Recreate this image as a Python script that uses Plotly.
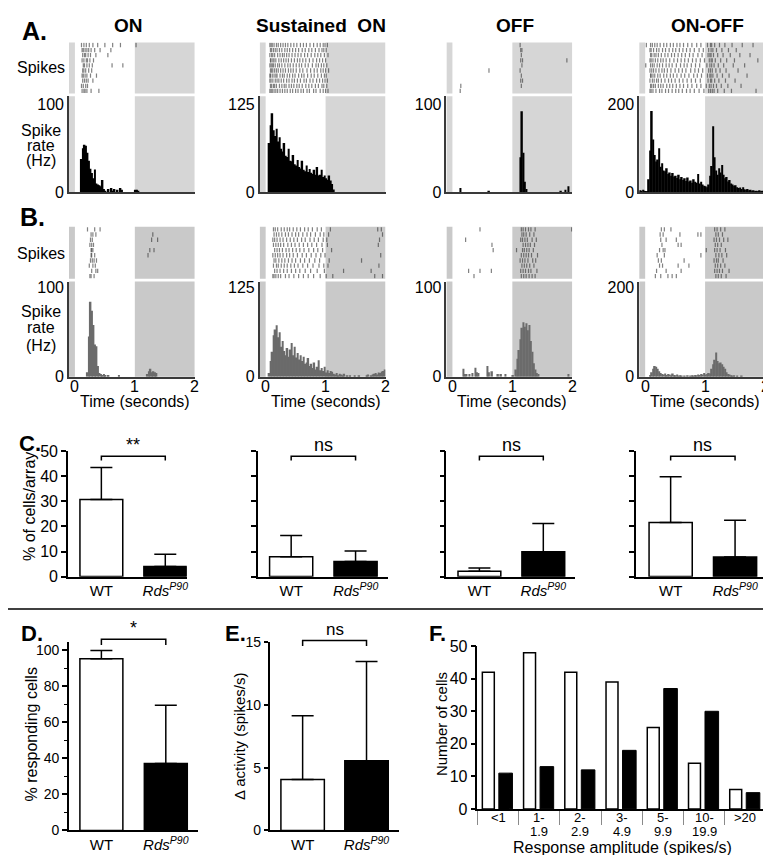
import plotly.graph_objects as go

W, H = 771, 855
FONT = "Liberation Sans, Arial, Helvetica, sans-serif"

# ---------------- data ----------------
BIN = 0.025          # histogram bin width (s)
T_START = -0.1       # first bin edge (s)
STIM_OFF = 1.0       # light off (s)
T_END = 2.0
time_ticks = [0, 1, 2]

conditions = ["ON", "Sustained  ON", "OFF", "ON-OFF"]

# PSTH values (Hz), 84 bins from -0.1 s to 2.0 s ; row A = WT, row B = RdsP90
hA_on = [0, 0, 0, 0,
         0, 0, 0, 0, 38, 50, 54, 53, 45, 36,
         27, 22, 16, 26, 10, 9, 8, 7, 14, 4,
         2, 0, 4, 0, 5, 2, 4, 0, 3, 0,
         5, 3, 0, 0, 0, 0, 0, 0, 0, 0,
         3, 3, 2, 0, 0, 0, 0, 0, 0, 0,
         0, 0, 0, 0, 0, 0, 0, 0, 0, 0,
         0, 0, 0, 0, 0, 0, 0, 0, 0, 0,
         0, 0, 0, 0, 0, 0, 0, 0, 0, 0]
hA_sus = [0, 0, 0, 0,
          0, 0, 70, 95, 112, 88, 80, 90, 72, 78,
          62, 58, 70, 52, 50, 62, 45, 44, 53, 40,
          38, 46, 36, 34, 45, 32, 30, 38, 29, 33,
          28, 26, 32, 25, 36, 24, 25, 32, 22, 24,
          20, 18, 24, 17, 12, 4, 0, 0, 0, 0,
          0, 0, 0, 0, 0, 0, 0, 0, 0, 0,
          0, 0, 0, 0, 0, 0, 0, 0, 0, 0,
          0, 0, 0, 0, 0, 0, 0, 0, 0, 0]
hA_off = [0, 0, 0, 0,
          0, 0, 0, 0, 0, 5, 0, 0, 0, 0,
          0, 0, 0, 0, 0, 0, 0, 0, 0, 0,
          0, 0, 0, 0, 2, 0, 0, 0, 0, 0,
          0, 0, 0, 0, 0, 0, 0, 0, 0, 0,
          0, 0, 0, 0, 0, 40, 92, 45, 12, 4,
          0, 0, 0, 0, 0, 0, 0, 0, 0, 0,
          0, 0, 0, 0, 0, 0, 0, 0, 0, 0,
          0, 0, 2, 0, 0, 3, 0, 7, 0, 0]
hA_onoff = [5, 4, 6, 4,
            3, 3, 30, 95, 185, 120, 85, 70, 75, 100,
            58, 66, 50, 48, 55, 42, 45, 38, 44, 36,
            38, 33, 40, 30, 35, 28, 32, 26, 34, 25,
            27, 22, 30, 24, 22, 42, 20, 24, 18, 15,
            14, 12, 18, 38, 60, 150, 80, 50, 40, 55,
            45, 62, 40, 32, 35, 25, 28, 20, 18, 15,
            16, 12, 10, 11, 8, 12, 7, 6, 8, 5,
            6, 4, 5, 3, 4, 3, 5, 3, 4, 3]
hB_on = [0, 0, 0, 0,
         0, 0, 0, 0, 0, 0, 0, 0, 5, 45,
         84, 74, 58, 36, 34, 12, 4, 3, 2, 3,
         2, 0, 2, 0, 0, 0, 0, 0, 0, 2,
         0, 0, 0, 0, 0, 0, 0, 0, 0, 0,
         0, 0, 0, 0, 0, 0, 0, 0, 3, 6,
         9, 5, 6, 5, 4, 0, 0, 0, 0, 0,
         0, 0, 0, 0, 0, 0, 0, 0, 0, 0,
         0, 0, 0, 0, 0, 0, 0, 0, 0, 0]
hB_sus = [0, 0, 0, 0,
          0, 0, 5, 22, 35, 58, 66, 72, 55, 62,
          42, 50, 36, 30, 40, 28, 38, 47, 30, 42,
          27, 33, 24, 30, 22, 28, 18, 20, 26, 15,
          18, 12, 20, 10, 14, 23, 9, 12, 8, 14,
          6, 9, 5, 8, 7, 4, 3, 5, 2, 4,
          3, 2, 4, 0, 2, 0, 2, 0, 0, 2,
          0, 0, 2, 0, 0, 0, 0, 2, 3, 0,
          2, 3, 4, 5, 3, 6, 5, 7, 8, 10]
hB_off = [0, 0, 0, 0,
          0, 0, 0, 0, 0, 0, 0, 9, 3, 3,
          0, 3, 0, 4, 0, 10, 5, 4, 0, 0,
          0, 0, 0, 12, 5, 0, 6, 0, 0, 0,
          3, 0, 3, 0, 0, 3, 0, 0, 0, 0,
          2, 0, 8, 20, 30, 42, 55, 61, 56, 60,
          52, 58, 40, 28, 15, 8, 4, 3, 0, 0,
          0, 0, 0, 0, 0, 0, 0, 0, 0, 0,
          0, 0, 0, 0, 0, 0, 0, 3, 0, 0]
hB_onoff = [0, 0, 0, 0,
            0, 0, 0, 4, 10, 18, 24, 22, 18, 12,
            8, 6, 5, 7, 4, 6, 5, 3, 7, 4,
            3, 5, 2, 3, 2, 0, 2, 0, 3, 0,
            2, 3, 2, 4, 3, 5, 4, 6, 5, 8,
            5, 6, 8, 7, 18, 28, 38, 54, 35, 30,
            32, 28, 22, 18, 10, 6, 5, 3, 2, 3,
            0, 2, 0, 0, 2, 0, 0, 0, 0, 0,
            0, 0, 0, 0, 0, 0, 0, 0, 0, 0]

hist_top_label_A = [100, 125, 100, 200]
hist_top_label_B = [100, 125, 100, 200]

# spike rasters: spike times (s) per trial, top trial first
rA_on = [[0.11, 0.15, 0.19, 0.24, 0.30, 0.38, 0.50, 0.63, 0.76, 1.02],
         [0.12, 0.14, 0.17, 0.20, 0.23, 0.27, 0.33, 0.42, 0.60],
         [0.13, 0.16, 0.18, 0.22, 0.26, 0.35, 0.55],
         [0.12, 0.15, 0.19, 0.21, 0.25, 0.31],
         [0.14, 0.16, 0.20, 0.24, 0.29, 0.62, 0.80],
         [0.13, 0.15, 0.18, 0.23, 0.28],
         [0.12, 0.14, 0.17, 0.20, 0.26, 0.36],
         [0.13, 0.16, 0.19, 0.22, 0.30],
         [0.11, 0.14, 0.18, 0.21],
         [0.12, 0.15, 0.17, 0.20, 0.27, 0.40]]
rA_sus = [[0.07, 0.09, 0.11, 0.14, 0.18, 0.21, 0.25, 0.29, 0.33, 0.37, 0.42, 0.47, 0.52, 0.58, 0.63, 0.68, 0.74, 0.80, 0.86, 0.91, 0.96, 0.99, 1.03],
          [0.08, 0.10, 0.13, 0.16, 0.19, 0.23, 0.27, 0.32, 0.36, 0.40, 0.45, 0.50, 0.55, 0.61, 0.66, 0.72, 0.77, 0.83, 0.89, 0.94, 0.97, 1.01],
          [0.07, 0.10, 0.12, 0.15, 0.20, 0.24, 0.28, 0.31, 0.35, 0.39, 0.44, 0.49, 0.54, 0.59, 0.65, 0.70, 0.76, 0.82, 0.87, 0.92, 0.98, 1.04],
          [0.08, 0.09, 0.12, 0.14, 0.17, 0.22, 0.26, 0.30, 0.34, 0.38, 0.43, 0.48, 0.53, 0.57, 0.62, 0.67, 0.73, 0.79, 0.85, 0.90, 0.95, 1.00],
          [0.07, 0.09, 0.11, 0.13, 0.16, 0.20, 0.23, 0.27, 0.32, 0.37, 0.41, 0.46, 0.51, 0.56, 0.60, 0.66, 0.71, 0.78, 0.84, 0.88, 0.93, 0.97, 1.02],
          [0.08, 0.10, 0.12, 0.15, 0.18, 0.21, 0.25, 0.29, 0.33, 0.38, 0.42, 0.46, 0.51, 0.57, 0.62, 0.69, 0.75, 0.81, 0.86, 0.92, 0.96, 1.00, 1.05],
          [0.07, 0.08, 0.11, 0.14, 0.17, 0.19, 0.24, 0.28, 0.31, 0.36, 0.40, 0.45, 0.49, 0.55, 0.60, 0.64, 0.70, 0.76, 0.81, 0.87, 0.93, 0.98, 1.01],
          [0.07, 0.09, 0.12, 0.16, 0.19, 0.22, 0.26, 0.30, 0.35, 0.39, 0.44, 0.48, 0.53, 0.58, 0.64, 0.68, 0.74, 0.79, 0.85, 0.90, 0.95, 0.99, 1.03],
          [0.08, 0.10, 0.13, 0.15, 0.18, 0.23, 0.27, 0.31, 0.34, 0.39, 0.43, 0.47, 0.52, 0.56, 0.61, 0.67, 0.72, 0.77, 0.83, 0.88, 0.94, 0.97, 1.02],
          [0.07, 0.09, 0.11, 0.14, 0.17, 0.20, 0.24, 0.28, 0.32, 0.36, 0.41, 0.45, 0.50, 0.54, 0.59, 0.63, 0.69, 0.73, 0.80, 0.84, 0.91, 0.96, 1.00, 1.04]]
rA_off = [[1.13], [1.14, 1.16], [1.15], [1.14, 1.17, 1.91], [1.16], [0.61, 1.13],
          [1.15], [1.14, 1.17], [0.14, 1.15], [0.13]]
rA_onoff = [[0.02, 0.09, 0.12, 0.16, 0.20, 0.25, 0.31, 0.36, 0.42, 0.47, 0.53, 0.58, 0.64, 0.71, 0.78, 0.86, 0.93, 1.04, 1.09, 1.11, 1.16, 1.24, 1.33, 1.45, 1.62, 1.80],
            [0.08, 0.10, 0.14, 0.19, 0.23, 0.29, 0.34, 0.40, 0.46, 0.51, 0.57, 0.63, 0.69, 0.75, 0.82, 0.90, 0.97, 1.06, 1.10, 1.13, 1.19, 1.28, 1.39, 1.52],
            [0.09, 0.11, 0.15, 0.18, 0.22, 0.27, 0.33, 0.38, 0.44, 0.49, 0.55, 0.61, 0.67, 0.74, 0.80, 0.88, 0.95, 1.05, 1.08, 1.10, 1.14, 1.21, 1.30, 1.42, 1.58, 1.75],
            [0.08, 0.10, 0.13, 0.17, 0.21, 0.26, 0.30, 0.35, 0.41, 0.48, 0.54, 0.60, 0.66, 0.72, 0.79, 0.85, 0.92, 0.99, 1.07, 1.10, 1.12, 1.17, 1.26, 1.36, 1.49, 1.88],
            [0.01, 0.09, 0.12, 0.15, 0.20, 0.24, 0.29, 0.35, 0.40, 0.45, 0.52, 0.59, 0.65, 0.70, 0.77, 0.84, 0.91, 1.03, 1.08, 1.11, 1.15, 1.22, 1.31, 1.47, 1.66],
            [0.08, 0.11, 0.14, 0.18, 0.23, 0.28, 0.32, 0.37, 0.43, 0.50, 0.56, 0.62, 0.68, 0.76, 0.83, 0.89, 0.96, 1.06, 1.09, 1.12, 1.18, 1.25, 1.35, 1.55],
            [0.09, 0.10, 0.13, 0.16, 0.21, 0.25, 0.31, 0.36, 0.42, 0.47, 0.53, 0.60, 0.66, 0.73, 0.81, 0.87, 0.94, 1.04, 1.08, 1.10, 1.13, 1.20, 1.29, 1.40, 1.70],
            [0.08, 0.12, 0.15, 0.19, 0.22, 0.27, 0.33, 0.39, 0.44, 0.50, 0.57, 0.63, 0.70, 0.77, 0.84, 0.92, 1.05, 1.09, 1.11, 1.16, 1.23, 1.34, 1.50],
            [0.09, 0.11, 0.14, 0.17, 0.22, 0.26, 0.30, 0.36, 0.41, 0.46, 0.52, 0.58, 0.64, 0.71, 0.78, 0.86, 0.93, 1.02, 1.07, 1.10, 1.14, 1.19, 1.27, 1.38, 1.60],
            [0.08, 0.10, 0.13, 0.18, 0.24, 0.28, 0.34, 0.39, 0.45, 0.51, 0.56, 0.62, 0.69, 0.75, 0.82, 0.90, 0.98, 1.06, 1.09, 1.12, 1.15, 1.21, 1.32, 1.44, 1.85]]
rB_on = [[0.21, 0.33, 0.42], [0.27, 0.30, 0.35, 1.30], [0.26, 0.29, 1.28, 1.38],
         [0.25, 0.28, 0.31], [0.27, 0.28, 0.30, 1.25, 1.32], [0.27, 0.28, 0.33, 1.22],
         [0.26, 0.29, 0.32, 0.36], [0.24, 0.30, 0.34], [0.28, 0.35, 0.38], [0.25, 0.27, 0.32]]
rB_sus = [[0.13, 0.16, 0.20, 0.26, 0.31, 0.36, 0.40, 0.46, 0.52, 0.58, 0.65, 0.71, 0.78, 0.86, 0.93, 1.08, 1.87, 1.93],
          [0.14, 0.18, 0.22, 0.27, 0.33, 0.38, 0.44, 0.50, 0.55, 0.62, 0.69, 0.75, 0.83, 0.91, 0.97, 1.05, 1.95],
          [0.12, 0.15, 0.19, 0.24, 0.29, 0.35, 0.41, 0.47, 0.53, 0.60, 0.66, 0.74, 0.81, 0.88, 0.96, 1.02, 1.90],
          [0.13, 0.17, 0.21, 0.25, 0.30, 0.37, 0.43, 0.49, 0.56, 0.63, 0.70, 0.77, 0.85, 0.94, 1.03, 1.88],
          [0.15, 0.19, 0.23, 0.28, 0.34, 0.39, 0.45, 0.51, 0.57, 0.64, 0.72, 0.80, 0.87, 0.95, 1.10],
          [0.12, 0.16, 0.20, 0.24, 0.29, 0.35, 0.40, 0.46, 0.53, 0.61, 0.68, 0.76, 0.84, 0.92, 0.99, 1.92],
          [0.14, 0.17, 0.22, 0.27, 0.32, 0.38, 0.44, 0.50, 0.58, 0.65, 0.73, 0.82, 0.90, 1.06, 1.60],
          [0.13, 0.18, 0.21, 0.26, 0.31, 0.36, 0.42, 0.48, 0.54, 0.62, 0.70, 0.79, 0.89, 0.97, 1.04, 1.89],
          [0.15, 0.19, 0.24, 0.30, 0.36, 0.43, 0.50, 0.57, 0.66, 0.75, 0.86, 0.98, 1.30, 1.76],
          [0.12, 0.14, 0.17, 0.21, 0.25, 0.33, 0.39, 0.47, 0.55, 0.63, 0.71, 0.80, 0.91, 1.01, 1.12, 1.82, 1.95]]
rB_off = [[0.46, 1.15, 1.18, 1.22, 1.27, 1.31, 1.38, 1.99],
          [1.16, 1.19, 1.23, 1.29, 1.36],
          [0.22, 1.14, 1.17, 1.21, 1.25, 1.33, 1.40],
          [0.66, 1.18, 1.22, 1.26, 1.30, 1.37],
          [0.68, 1.07, 1.17, 1.20, 1.24, 1.28, 1.35],
          [1.15, 1.19, 1.23, 1.27, 1.32, 1.42],
          [1.13, 1.17, 1.21, 1.26, 1.34, 1.39],
          [1.16, 1.20, 1.24, 1.29, 1.36],
          [0.27, 0.46, 0.65, 1.14, 1.18, 1.22, 1.27, 1.31, 1.41],
          [0.36, 1.15, 1.19, 1.23, 1.28, 1.33, 1.38]]
rB_onoff = [[0.27, 0.32, 0.43, 1.16, 1.20, 1.26, 1.33],
            [0.25, 0.30, 0.58, 0.88, 0.93, 1.18, 1.22, 1.29],
            [0.26, 0.35, 0.52, 1.15, 1.19, 1.24, 1.31, 1.38],
            [0.28, 0.55, 0.60, 1.17, 1.21, 1.27],
            [0.24, 0.30, 0.33, 1.02, 1.16, 1.20, 1.25, 1.34],
            [0.20, 0.32, 0.93, 1.18, 1.23, 1.28, 1.36],
            [0.22, 0.27, 0.65, 1.15, 1.19, 1.22, 1.30],
            [0.24, 0.29, 0.55, 0.73, 1.17, 1.21, 1.26, 1.33],
            [0.19, 0.35, 0.60, 1.16, 1.20, 1.24, 1.29, 1.40],
            [0.17, 0.26, 0.38, 0.45, 0.52, 1.18, 1.22, 1.27, 1.35]]

# Panel C: % of cells/array (mean and top of SD bar)
genotypes = ["WT", "<i>Rds</i><sup><i>P90</i></sup>"]
c_wt = [30.7, 7.9, 2.1, 21.6]
c_wt_top = [43.5, 16.4, 3.4, 39.8]
c_rds = [4.0, 6.0, 9.9, 7.8]
c_rds_top = [8.9, 10.2, 21.2, 22.5]
c_sig = ["**", "ns", "ns", "ns"]
c_ticks = [0, 10, 20, 30, 40, 50]

# Panel D: % responding cells
d_vals = [95.2, 37.1]
d_top = [99.8, 69.4]
d_sig = "*"

# Panel E: delta activity (spikes/s)
e_vals = [4.06, 5.55]
e_top = [9.14, 13.46]
e_sig = "ns"

# Panel F: response amplitude distribution
f_cats = ["<1", "1-1.9", "2-2.9", "3-4.9", "5-9.9", "10-19.9", ">20"]
f_lab1 = ["&lt;1", "1-", "2-", "3-", "5-", "10-", "&gt;20"]
f_lab2 = ["", "1.9", "2.9", "4.9", "9.9", "19.9", ""]
f_wt = [42, 48, 42, 39, 25, 14, 6]
f_rds = [11, 13, 12, 18, 37, 30, 5]

# ---------------- figure helpers ----------------
fig = go.Figure()
LAY = {}
shapes = []
annots = []
counter = [0]


def X(px):
    return px / W


def Y(py):
    return 1 - py / H


BASE = dict(showgrid=False, zeroline=False, fixedrange=True)


def axes(px0, px1, py0, py1, xa, ya):
    counter[0] += 1
    n = counter[0]
    s = "" if n == 1 else str(n)
    xd = dict(BASE); xd.update(xa)
    yd = dict(BASE); yd.update(ya)
    xd.update(domain=[X(px0), X(px1)], anchor="y" + s)
    yd.update(domain=[Y(py1), Y(py0)], anchor="x" + s)
    LAY["xaxis" + s] = xd
    LAY["yaxis" + s] = yd
    return "x" + s, "y" + s


def text(x, y, t, size=16, bold=False, angle=0, xref="paper", yref="paper", xanchor="center", yanchor="middle", yshift=0):
    annots.append(dict(x=x, y=y, xref=xref, yref=yref, text=("<b>%s</b>" % t) if bold else t,
                       showarrow=False, textangle=angle, xanchor=xanchor, yanchor=yanchor, yshift=yshift,
                       font=dict(family=FONT, size=size, color="black")))


def gray_regions(xr, yr, color):
    for a, b in [(T_START, 0.0), (STIM_OFF, T_END)]:
        shapes.append(dict(type="rect", xref=xr, yref=yr + " domain", x0=a, x1=b, y0=0, y1=1,
                           fillcolor=color, line=dict(width=0), layer="below"))


def bracket(xr, yr, xrange, yrange, x0, x1, ytop, ytip, label, size):
    fx = lambda v: (v - xrange[0]) / (xrange[1] - xrange[0])
    fy = lambda v: (v - yrange[0]) / (yrange[1] - yrange[0])
    path = "M %f,%f L %f,%f L %f,%f L %f,%f" % (fx(x0), fy(ytip), fx(x0), fy(ytop), fx(x1), fy(ytop), fx(x1), fy(ytip))
    shapes.append(dict(type="path", xref=xr + " domain", yref=yr + " domain", path=path,
                       line=dict(color="black", width=1.5)))
    text((x0 + x1) / 2, fy(ytop), label, size=size, xref=xr, yref=yr + " domain", yanchor="bottom", yshift=-1)


# ---------------- panels A & B ----------------
col_x = [(61, 187), (252, 378), (439, 565), (632, 758)]
rows = [
    dict(ras=[rA_on, rA_sus, rA_off, rA_onoff], hist=[hA_on, hA_sus, hA_off, hA_onoff],
         top=hist_top_label_A, ras_y=(27, 79), hist_y=(82, 180), ymax=[109, 136, 109, 218],
         gray="#d6d6d6", bar="black", tick_color="rgba(45,45,45,0.6)", time_axis=False),
    dict(ras=[rB_on, rB_sus, rB_off, rB_onoff], hist=[hB_on, hB_sus, hB_off, hB_onoff],
         top=hist_top_label_B, ras_y=(215, 268), hist_y=(271, 368), ymax=[106.6, 133, 106.6, 213],
         gray="#c9c9c9", bar="#6b6b6b", tick_color="rgba(45,45,45,0.6)", time_axis=True),
]

for row in rows:
    for c in range(4):
        x0p, x1p = col_x[c]
        # raster
        xr, yr = axes(x0p, x1p, row["ras_y"][0], row["ras_y"][1],
                      dict(range=[T_START, T_END], visible=False),
                      dict(range=[0.5, len(row["ras"][c]) + 0.5], visible=False))
        gray_regions(xr, yr, row["gray"])
        xs, ys = [], []
        trials = row["ras"][c]
        for k, tr in enumerate(trials):
            r = len(trials) - k
            for t in tr:
                xs += [t, t, None]
                ys += [r - 0.42, r + 0.42, None]
        fig.add_trace(go.Scatter(x=xs, y=ys, mode="lines", xaxis=xr, yaxis=yr, hoverinfo="skip",
                                 line=dict(color=row["tick_color"], width=1.2)))
        # histogram
        vals = row["hist"][c]
        centers = [T_START + BIN * (i + 0.5) for i in range(len(vals))]
        xa = dict(range=[T_START, T_END], showline=True, linecolor="#3a3a3a", linewidth=1.5, ticks="",
                  showticklabels=False)
        ya = dict(range=[0, row["ymax"][c]], showline=True, linecolor="#3a3a3a", linewidth=1.5, ticks="",
                  tickvals=[0, row["top"][c]], ticktext=["0", str(row["top"][c])],
                  tickfont=dict(family=FONT, size=16, color="black"))
        xr, yr = axes(x0p, x1p, row["hist_y"][0], row["hist_y"][1], xa, ya)
        gray_regions(xr, yr, row["gray"])
        fig.add_trace(go.Bar(x=centers, y=vals, width=BIN, xaxis=xr, yaxis=yr, hoverinfo="skip",
                             marker=dict(color=row["bar"], line=dict(width=0))))
        if row["time_axis"]:
            for tv in time_ticks:
                text(tv, Y(378), str(tv), size=16, xref=xr)
            text(1.0, Y(393), "Time (seconds)", size=16, xref=xr)

# titles / row labels
title_x = [121, 313, 508, 700]
for c in range(4):
    text(X(title_x[c]), Y(10), conditions[c], size=19, bold=True)
text(X(27), Y(15), "A.", size=25, bold=True)
text(X(25), Y(205), "B.", size=25, bold=True)
for yl, yrl in [(53, (117, 132, 147)), (242, (302, 318, 336))]:
    text(X(33), Y(yl), "Spikes", size=16)
    for ty, t in zip(yrl, ["Spike", "rate", "(Hz)"]):
        text(X(33), Y(ty), t, size=16)

# ---------------- panel C ----------------
c_x = [(60, 179), (250, 380), (439, 568), (629, 760)]
c_xr = [[-0.523, 1.336], [-0.52, 1.496], [-0.516, 1.5], [-0.535, 1.496]]
for c in range(4):
    xa = dict(range=c_xr[c], showline=True, linecolor="black", linewidth=1.5, ticks="",
              tickvals=[0, 1], ticktext=genotypes, tickfont=dict(family=FONT, size=15, color="black"))
    ya = dict(range=[0, 50], showline=True, linecolor="black", linewidth=1.5, ticks="outside",
              ticklen=5, tickwidth=1.5, tickcolor="black", tickvals=c_ticks,
              showticklabels=(c == 0), tickfont=dict(family=FONT, size=16, color="black"))
    xr, yr = axes(c_x[c][0], c_x[c][1], 444, 572, xa, ya)
    fig.add_trace(go.Bar(x=[0, 1], y=[c_wt[c], c_rds[c]], width=0.67, xaxis=xr, yaxis=yr, hoverinfo="skip",
                         marker=dict(color=["white", "black"], line=dict(color="black", width=1.5)),
                         error_y=dict(type="data", symmetric=False,
                                      array=[c_wt_top[c] - c_wt[c], c_rds_top[c] - c_rds[c]],
                                      arrayminus=[0, 0], color="black", thickness=1.5, width=11)))
    bracket(xr, yr, c_xr[c], [0, 50], 0, 1, 48.0, 46.3, c_sig[c], 18)
text(X(22), Y(436), "C.", size=22, bold=True)
text(X(21), Y(500), "% of cells/array", size=16, angle=-90)

# separator
shapes.append(dict(type="line", xref="paper", yref="paper", x0=0, x1=1, y0=Y(605), y1=Y(605),
                   line=dict(color="black", width=1.5)))

# ---------------- panel D ----------------
d_xr = [-0.504, 1.496]
d_yr = [0, 104.3]
xa = dict(range=d_xr, showline=True, linecolor="black", linewidth=1.5, ticks="",
          tickvals=[0, 1], ticktext=genotypes, tickfont=dict(family=FONT, size=15, color="black"))
ya = dict(range=d_yr, showline=True, linecolor="black", linewidth=1.5, ticks="outside", ticklen=5,
          tickwidth=1.5, tickcolor="black", tick0=0, dtick=20,
          minor=dict(dtick=10, ticks="outside", ticklen=3, tickwidth=1.2, tickcolor="black"),
          tickfont=dict(family=FONT, size=14, color="black"))
xr, yr = axes(61, 190, 639, 831, xa, ya)
fig.add_trace(go.Bar(x=[0, 1], y=d_vals, width=0.667, xaxis=xr, yaxis=yr, hoverinfo="skip",
                     marker=dict(color=["white", "black"], line=dict(color="black", width=1.5)),
                     error_y=dict(type="data", symmetric=False, array=[d_top[0] - d_vals[0], d_top[1] - d_vals[1]],
                                  arrayminus=[0, 0], color="black", thickness=1.5, width=11)))
bracket(xr, yr, d_xr, d_yr, 0, 1, 106.0, 102.8, d_sig, 18)
text(X(24), Y(630), "D.", size=22, bold=True)
text(X(23), Y(733), "% responding cells", size=16, angle=-90)

# ---------------- panel E ----------------
e_xr = [-0.516, 1.516]
e_yr = [0, 15]
xa = dict(range=e_xr, showline=True, linecolor="black", linewidth=1.5, ticks="",
          tickvals=[0, 1], ticktext=genotypes, tickfont=dict(family=FONT, size=15, color="black"))
ya = dict(range=e_yr, showline=True, linecolor="black", linewidth=1.5, ticks="outside", ticklen=4,
          tickwidth=1.5, tickcolor="black", tick0=0, dtick=5,
          tickfont=dict(family=FONT, size=14, color="black"))
xr, yr = axes(262, 392, 639, 831, xa, ya)
fig.add_trace(go.Bar(x=[0, 1], y=e_vals, width=0.68, xaxis=xr, yaxis=yr, hoverinfo="skip",
                     marker=dict(color=["white", "black"], line=dict(color="black", width=1.5)),
                     error_y=dict(type="data", symmetric=False, array=[e_top[0] - e_vals[0], e_top[1] - e_vals[1]],
                                  arrayminus=[0, 0], color="black", thickness=1.5, width=11)))
bracket(xr, yr, e_xr, e_yr, 0, 1, 15.15, 14.7, e_sig, 17)
text(X(228), Y(630), "E.", size=22, bold=True)
text(X(232), Y(735), "\u0394 activity (spikes/s)", size=15, angle=-90)

# ---------------- panel F ----------------
xa = dict(type="category", range=[-0.5, 6.5], showline=True, linecolor="black", linewidth=1.5,
          tickson="boundaries", ticks="outside", ticklen=14, tickwidth=1, tickcolor="#8a8a8a",
          showticklabels=False, categoryorder="array", categoryarray=f_cats)
ya = dict(range=[0, 50], showline=True, linecolor="black", linewidth=1.5, ticks="outside", ticklen=5,
          tickwidth=1.5, tickcolor="black", tick0=0, dtick=10,
          tickfont=dict(family=FONT, size=16, color="black"))
xr, yr = axes(470, 759, 643, 809, xa, ya)
fig.add_trace(go.Bar(x=f_cats, y=f_wt, width=0.29, offset=-0.38, xaxis=xr, yaxis=yr, hoverinfo="skip",
                     marker=dict(color="white", line=dict(color="black", width=1.5))))
fig.add_trace(go.Bar(x=f_cats, y=f_rds, width=0.33, offset=0.02, xaxis=xr, yaxis=yr, hoverinfo="skip",
                     marker=dict(color="black", line=dict(color="black", width=1))))
for k in range(len(f_cats)):
    text(k, Y(818), f_lab1[k], size=13, xref=xr)
    if f_lab2[k]:
        text(k, Y(832), f_lab2[k], size=13, xref=xr)
text(X(430), Y(630), "F.", size=22, bold=True)
text(X(434), Y(722), "Number of cells", size=15, angle=-90)
text(X(615), Y(848), "Response amplitude (spikes/s)", size=16)

fig.update_layout(width=W, height=H, autosize=False, margin=dict(l=0, r=0, t=0, b=0),
                  paper_bgcolor="white", plot_bgcolor="white", showlegend=False,
                  barmode="overlay", font=dict(family=FONT, color="black"),
                  shapes=shapes, annotations=annots, **LAY)
fig.write_html("out.html")
